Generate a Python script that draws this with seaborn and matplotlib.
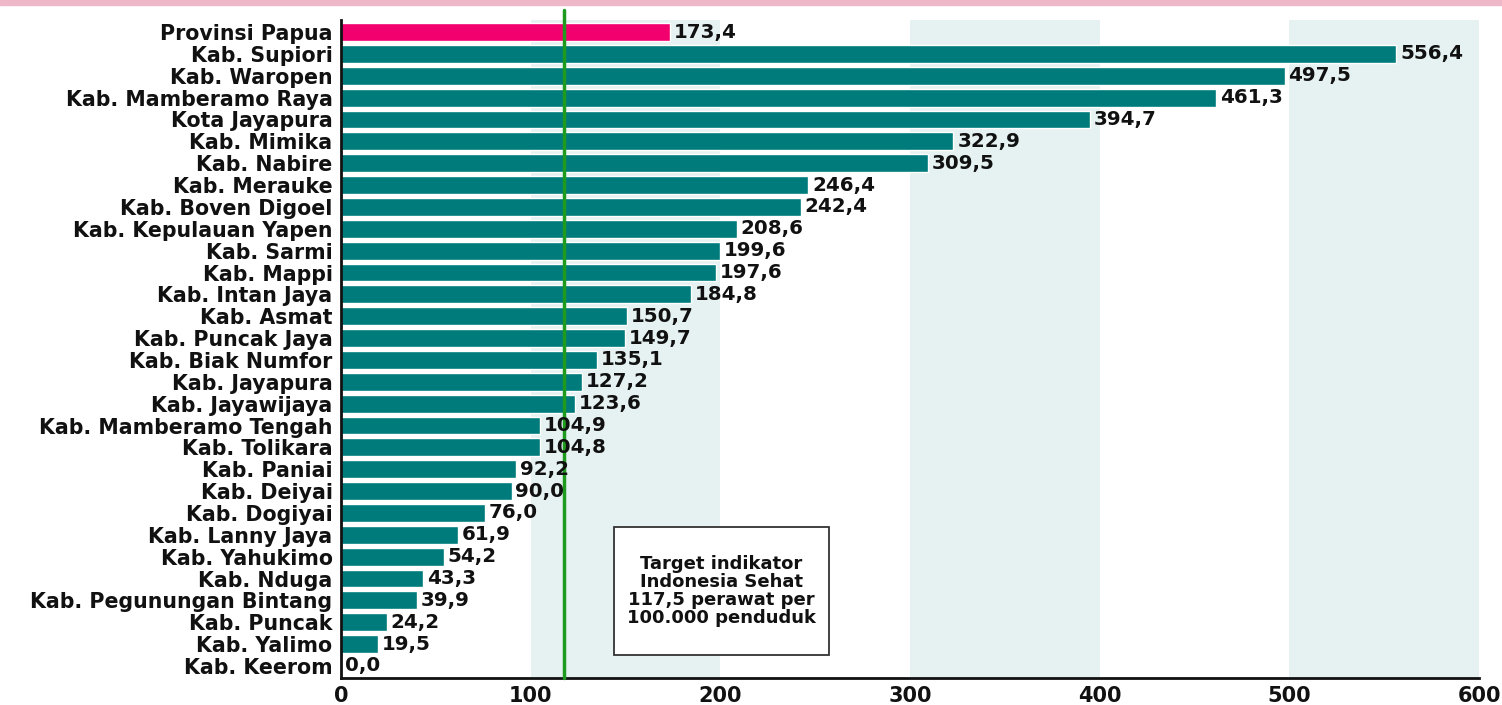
import pandas as pd
import seaborn as sns
import matplotlib.pyplot as plt

# data
regions = ["Provinsi Papua", "Kab. Supiori", "Kab. Waropen", "Kab. Mamberamo Raya",
           "Kota Jayapura", "Kab. Mimika", "Kab. Nabire", "Kab. Merauke",
           "Kab. Boven Digoel", "Kab. Kepulauan Yapen", "Kab. Sarmi", "Kab. Mappi",
           "Kab. Intan Jaya", "Kab. Asmat", "Kab. Puncak Jaya", "Kab. Biak Numfor",
           "Kab. Jayapura", "Kab. Jayawijaya", "Kab. Mamberamo Tengah", "Kab. Tolikara",
           "Kab. Paniai", "Kab. Deiyai", "Kab. Dogiyai", "Kab. Lanny Jaya",
           "Kab. Yahukimo", "Kab. Nduga", "Kab. Pegunungan Bintang", "Kab. Puncak",
           "Kab. Yalimo", "Kab. Keerom"]
ratio = [173.4, 556.4, 497.5, 461.3, 394.7, 322.9, 309.5, 246.4, 242.4, 208.6,
         199.6, 197.6, 184.8, 150.7, 149.7, 135.1, 127.2, 123.6, 104.9, 104.8,
         92.2, 90.0, 76.0, 61.9, 54.2, 43.3, 39.9, 24.2, 19.5, 0.0]
target = 117.5
x_ticks = [0, 100, 200, 300, 400, 500, 600]

df = pd.DataFrame({"region": regions, "ratio": ratio})
df["group"] = ["prov"] + ["kab"] * (len(regions) - 1)

sns.set_style("white")
plt.rcParams["font.family"] = ["DejaVu Sans"]
plt.rcParams["font.weight"] = "bold"

fig = plt.figure(figsize=(15.02, 7.05), dpi=100)
ax = fig.add_axes([0.227, 0.0383, 0.7577, 0.9333])

# shaded bands behind bars
for start in [100, 300, 500]:
    ax.axvspan(start, start + 100, color="#e6f2f2", zorder=0, lw=0)

sns.barplot(data=df, x="ratio", y="region", hue="group",
            palette={"prov": "#f2006e", "kab": "#007b7b"}, saturation=1,
            dodge=False, legend=False, width=0.82, ax=ax, zorder=2)

for i, v in enumerate(ratio):
    ax.text(v + 2, i, f"{v:.1f}".replace(".", ","), va="center", ha="left",
            fontsize=14.3, fontweight="bold", color="#111111", zorder=4)

ax.axvline(target, color="#1e9a1e", lw=2.5, zorder=3, ymin=0, ymax=1.015, clip_on=False)

# annotation box
trans = ax.get_xaxis_transform()
ax.add_patch(plt.Rectangle((143.9, 0.035), 113.4, 0.1945, transform=trans,
                           fc="white", ec="#333333", lw=1.3, zorder=5))
ax.text(200.6, 0.132, "Target indikator\nIndonesia Sehat\n117,5 perawat per\n100.000 penduduk",
        transform=trans, ha="center", va="center",
        fontsize=13, fontweight="bold", linespacing=1.0, zorder=6, color="#111111")

ax.set_xlim(0, 600)
ax.set_ylim(len(regions) - 0.5 + 0.05, -0.5 - 0.05)
ax.set_xticks(x_ticks)
ax.set_xticklabels([str(t) for t in x_ticks], fontsize=15, fontweight="bold")
ax.tick_params(axis="y", labelsize=14.8, length=0, pad=6, labelcolor="#111111")
ax.tick_params(axis="x", length=0, pad=6, labelcolor="#111111")
for lbl in ax.get_yticklabels():
    lbl.set_fontweight("bold")
ax.set_xlabel("")
ax.set_ylabel("")
for side in ["top", "right"]:
    ax.spines[side].set_visible(False)
for side in ["left", "bottom"]:
    ax.spines[side].set_color("#111111")
    ax.spines[side].set_linewidth(2)

# pink strip along the top edge
fig.patches.append(plt.Rectangle((0, 0.993), 1, 0.007, transform=fig.transFigure,
                                 color="#efb8c8", zorder=0))

fig.savefig("out.png", dpi=100)
